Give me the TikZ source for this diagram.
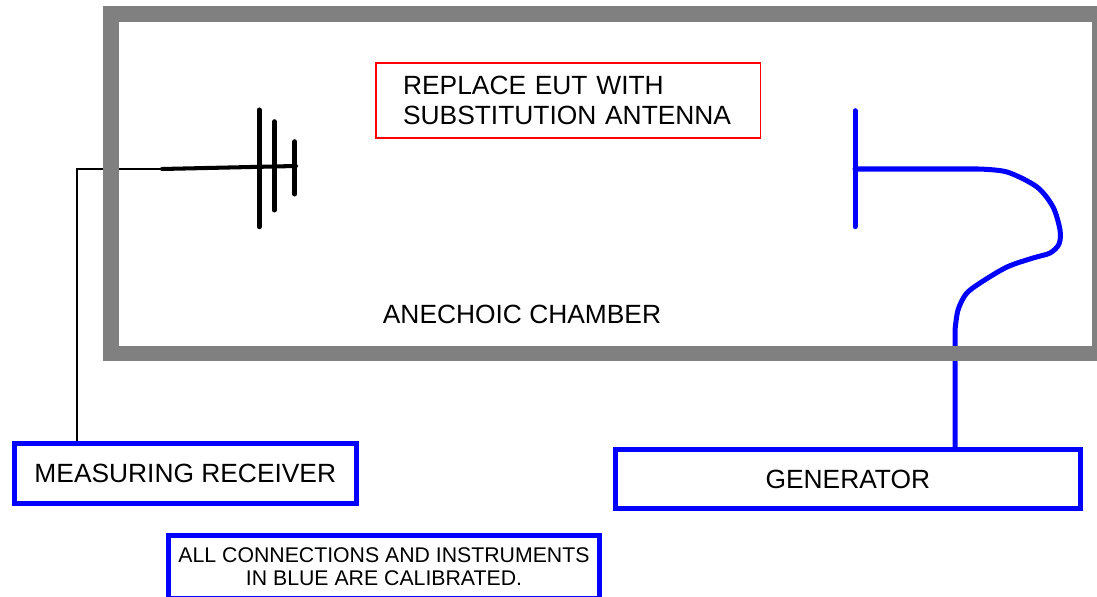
\documentclass[tikz,border=0pt]{standalone}
\usepackage{fontspec}
\setmainfont{Liberation Sans}
\usetikzlibrary{positioning}

\begin{document}
\begin{tikzpicture}[x=0.02cm,y=-0.02cm,
  instrbox/.style={draw=blue, line width=2.85pt, inner sep=0pt, align=center,
    font=\fontsize{15}{15.2}\selectfont},
  bluecable/.style={blue, line width=2.85pt, line cap=round, line join=round},
  blackcable/.style={black, line width=0.85pt},
  element/.style={black, line width=2.85pt, line cap=round}]

\useasboundingbox (0,0) rectangle (1097,597);

% receiving antenna (black)
{
\coordinate (feed) at (162,169);
\coordinate (bend) at (77,169);

\draw[black, line width=2.3pt, line cap=round] (feed)--(296,166);

\draw[element] (259.3,110)--++(0,116.7);
\draw[element] (274.3,121.7)--++(0,88.3);
\draw[element] (294.7,141.7)--++(0,52.3);
}

% substitution antenna (blue)
{
\coordinate (subst) at (855,169);
\coordinate (tail) at (955,330);

\draw[bluecable] (855,110.7)--++(0,116);
}

% nodes
{
\node[draw=red, line width=1.1pt, inner xsep=0.54cm, inner ysep=0pt,
  text width=6.61cm, minimum height=1.51cm, align=left,
  font=\fontsize{15}{17.4}\selectfont] (note) at (568.3,100.5)
  {REPLACE EUT WITH\\SUBSTITUTION ANTENNA};

\node[font=\fontsize{15}{15.2}\selectfont] (chamber) at (522,314.7) {ANECHOIC CHAMBER};

\node[instrbox, minimum width=6.85cm, minimum height=1.21cm] (rx) at (185.3,473.4)
  {MEASURING RECEIVER};

\node[instrbox, minimum width=9.31cm, minimum height=1.18cm] (gen) at (847.8,479)
  {GENERATOR};

\node[instrbox, minimum width=8.62cm, minimum height=1.25cm,
  font=\fontsize{12.1}{13}\selectfont] (calib) at (384,567)
  {ALL CONNECTIONS AND INSTRUMENTS\\IN BLUE ARE CALIBRATED.};
}

% cables
\draw[blackcable] (feed)--(bend)--(bend |- rx.north);

\draw[bluecable] (subst)--(978,169)--plot[smooth] coordinates {(978,169) (1007,172)
  (1037,187) (1053,207) (1060,230) (1059,244) (1050,253) (1033,258) (1007,267)
  (980,283) (966,294) (958,310) (955,330)}--(gen.north -| tail);

% chamber walls
\draw[gray, line width=9.1pt] (111,14.5) rectangle (1100,353.5);

\end{tikzpicture}
\end{document}
